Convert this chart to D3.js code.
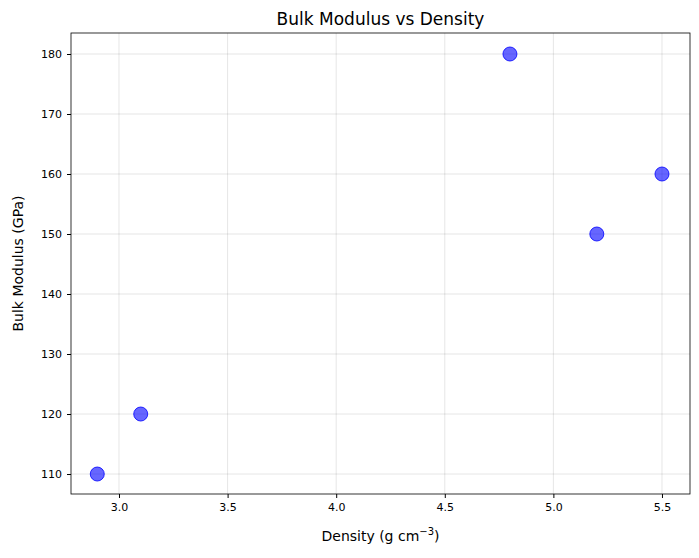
<!DOCTYPE html>
<html><head><meta charset="utf-8">
<script src="https://cdn.jsdelivr.net/npm/d3@7"></script>
<style>body{margin:0;background:#fff}</style></head>
<body><div id="chart"></div>
<script>
const density = [2.9, 3.1, 4.8, 5.2, 5.5];
const bulkModulus = [110, 120, 180, 150, 160];
const xTicks = [3.0, 3.5, 4.0, 4.5, 5.0, 5.5];
const yTicks = [110, 120, 130, 140, 150, 160, 170, 180];

const width = 699, height = 558;
const margin = { top: 33, right: 9, bottom: 64, left: 71 };

const svg = d3.select("#chart").append("svg")
  .attr("width", width).attr("height", height)
  .style("font-family", "DejaVu Sans");

const x = d3.scaleLinear().domain([2.779, 5.629])
  .range([margin.left, width - margin.right]);
const y = d3.scaleLinear().domain([106.67, 183.5])
  .range([height - margin.bottom, margin.top]);

// grid
svg.append("g").selectAll("line").data(xTicks).enter().append("line")
  .attr("x1", d => x(d)).attr("x2", d => x(d))
  .attr("y1", margin.top).attr("y2", height - margin.bottom)
  .attr("stroke", "#000").attr("stroke-opacity", 0.1);
svg.append("g").selectAll("line").data(yTicks).enter().append("line")
  .attr("y1", d => y(d)).attr("y2", d => y(d))
  .attr("x1", margin.left).attr("x2", width - margin.right)
  .attr("stroke", "#000").attr("stroke-opacity", 0.1);

// axes
const gx = svg.append("g")
  .attr("transform", `translate(0,${height - margin.bottom})`)
  .call(d3.axisBottom(x).tickValues(xTicks).tickFormat(d3.format(".1f")).tickSizeOuter(0).tickSize(4).tickPadding(5));
const gy = svg.append("g")
  .attr("transform", `translate(${margin.left},0)`)
  .call(d3.axisLeft(y).tickValues(yTicks).tickSizeOuter(0).tickSize(4).tickPadding(5));
[gx, gy].forEach(g => {
  g.selectAll("text").attr("font-size", 11).attr("font-family", "DejaVu Sans").attr("fill", "#000");
  g.select(".domain").remove();
});

// frame
svg.append("rect")
  .attr("x", margin.left).attr("y", margin.top)
  .attr("width", width - margin.left - margin.right)
  .attr("height", height - margin.top - margin.bottom)
  .attr("fill", "none").attr("stroke", "#000").attr("stroke-width", 0.8);

// points
svg.append("g").selectAll("circle").data(density).enter().append("circle")
  .attr("cx", d => x(d))
  .attr("cy", (d, i) => y(bulkModulus[i]))
  .attr("r", 7)
  .attr("fill", "rgba(0,0,255,0.6)")
  .attr("stroke", "rgba(0,0,255,0.8)").attr("stroke-width", 1);

// labels
svg.append("text").attr("x", (margin.left + width - margin.right) / 2).attr("y", 25)
  .attr("text-anchor", "middle").attr("font-size", 17).text("Bulk Modulus vs Density");
const xl = svg.append("text").attr("x", (margin.left + width - margin.right) / 2).attr("y", 541)
  .attr("text-anchor", "middle").attr("font-size", 14);
xl.append("tspan").text("Density (g cm");
xl.append("tspan").attr("dy", -6).attr("font-size", 10).text("−3");
xl.append("tspan").attr("dy", 6).text(")");
svg.append("text").attr("transform", `translate(23,${(margin.top + height - margin.bottom) / 2}) rotate(-90)`)
  .attr("text-anchor", "middle").attr("font-size", 14).text("Bulk Modulus (GPa)");
</script></body></html>
